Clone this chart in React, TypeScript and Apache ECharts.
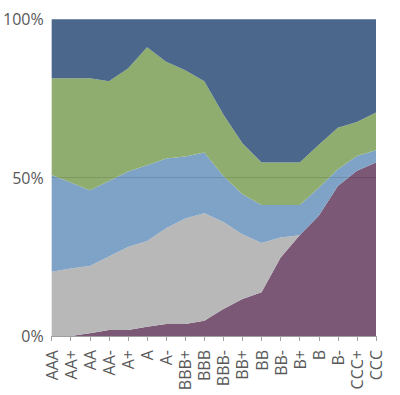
import React, { useEffect, useRef } from "react";
import * as echarts from "echarts";

const categories = ["AAA", "AA+", "AA", "AA-", "A+", "A", "A-", "BBB+", "BBB", "BBB-", "BB+", "BB", "BB-", "B+", "B", "B-", "CCC+", "CCC"];
const yTicks = [0, 50, 100];

const purpleValues = [0, 0, 0.9, 1.9, 1.9, 2.9, 3.8, 3.8, 4.8, 8.5, 11.7, 13.8, 24.8, 31.8, 37.9, 47.3, 52.1, 54.7];
const greyValues = [20.3, 21.3, 21.2, 23.2, 26.2, 27.1, 30.2, 33.3, 33.9, 27.5, 20.4, 15.5, 6.3, 0, 0, 0, 0, 0];
const lightBlueValues = [30.5, 27.1, 23.9, 23.8, 23.8, 23.9, 22.0, 19.5, 19.2, 14.5, 12.6, 12.0, 10.2, 9.5, 8.9, 5.3, 4.7, 3.9];
const greenValues = [30.5, 32.9, 35.3, 31.5, 32.5, 37.2, 30.5, 27.2, 22.5, 19.4, 16.1, 13.4, 13.4, 13.4, 13.5, 13.1, 10.7, 11.9];
const darkBlueValues = [18.7, 18.7, 18.7, 19.6, 15.6, 8.9, 13.5, 16.2, 19.6, 30.1, 39.2, 45.3, 45.3, 45.3, 39.7, 34.3, 32.5, 29.5];

const layers = [
  { name: "purple", data: purpleValues, color: "#7a5876" },
  { name: "grey", data: greyValues, color: "#b8b8b8" },
  { name: "lightBlue", data: lightBlueValues, color: "#7fa3c7" },
  { name: "green", data: greenValues, color: "#8fad6e" },
  { name: "darkBlue", data: darkBlueValues, color: "#4b688c" },
];

export default function App() {
  const ref = useRef<HTMLDivElement>(null);
  useEffect(() => {
    if (!ref.current) return;
    const chart = echarts.init(ref.current, null, { renderer: "svg" });
    const font = "'Open Sans', 'Noto Sans', sans-serif";
    chart.setOption({
      animation: false,
      grid: { left: 48.5, right: 24, top: 19, bottom: 59, containLabel: false },
      xAxis: {
        type: "category",
        data: categories,
        boundaryGap: false,
        axisLine: { show: true, lineStyle: { color: "#a0a0a0", width: 1 } },
        axisTick: { show: true, length: 5, lineStyle: { color: "#a0a0a0" } },
        axisLabel: {
          rotate: 90,
          margin: 14,
          interval: 0,
          color: "#595959",
          fontSize: 16,
          fontFamily: font,
        },
        splitLine: { show: false },
      },
      yAxis: {
        type: "value",
        min: yTicks[0],
        max: yTicks[yTicks.length - 1],
        interval: 50,
        axisLine: { show: false },
        axisTick: { show: false },
        splitLine: { show: false },
        axisLabel: {
          formatter: "{value}%",
          margin: 8,
          color: "#595959",
          fontSize: 16,
          fontFamily: font,
        },
      },
      series: layers.map((l, i) => ({
        name: l.name,
        type: "line",
        stack: "total",
        data: l.data,
        symbol: "none",
        lineStyle: { width: 0, color: l.color },
        itemStyle: { color: l.color },
        areaStyle: { color: l.color, opacity: 1 },
        silent: true,
        ...(i === layers.length - 1
          ? {
              markLine: {
                silent: true,
                symbol: "none",
                label: { show: false },
                data: [
                  { yAxis: 50, lineStyle: { color: "rgba(0,0,0,0.12)", width: 1, type: "solid" } },
                  { yAxis: 100, lineStyle: { color: "rgba(255,255,255,0.25)", width: 1, type: "solid" } },
                  { xAxis: "CCC", lineStyle: { color: "rgba(255,255,255,0.25)", width: 1, type: "solid" } },
                ],
              },
            }
          : {}),
      })),
    });
    return () => chart.dispose();
  }, []);
  return <div ref={ref} style={{ width: 400, height: 395, position: "absolute", left: 0, top: 0 }} />;
}
